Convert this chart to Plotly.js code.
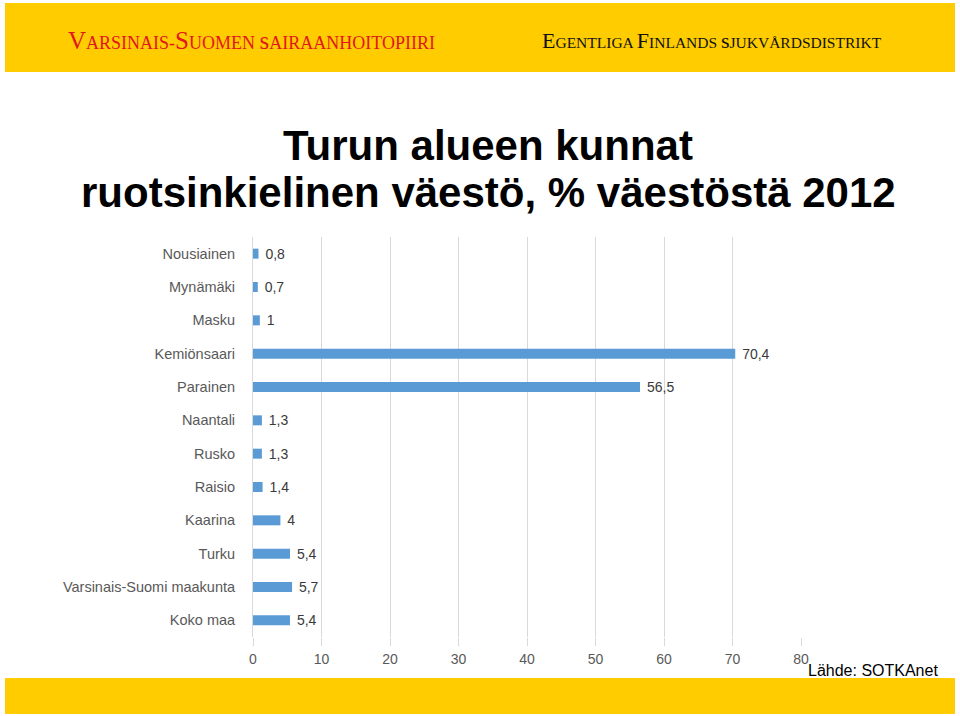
<!DOCTYPE html>
<html><head><meta charset="utf-8">
<script src="https://cdn.plot.ly/plotly-3.0.1.min.js"></script>
<style>html,body{margin:0;padding:0;background:#fff}#chart{width:960px;height:716px}</style>
</head><body><div id="chart"></div>
<script>
const categories = ["Nousiainen","Mynämäki","Masku","Kemiönsaari","Parainen","Naantali","Rusko","Raisio","Kaarina","Turku","Varsinais-Suomi maakunta","Koko maa"];
const values = [0.8,0.7,1,70.4,56.5,1.3,1.3,1.4,4,5.4,5.7,5.4];
const xTicks = [0,10,20,30,40,50,60,70,80];
const titleLines = ["Turun alueen kunnat","ruotsinkielinen väestö, % väestöstä 2012"];
const source = "Lähde: SOTKAnet";

const L=253, R=801, T=237, B=637, W=960, H=716;
const px = x => (x-L)/(R-L);
const py = y => (B-y)/(B-T);

function smallCaps(str, big, small){
  return str.split(" ").map(w=>{
    return w.split("-").map(p=>`<span style="font-size:${big}px">${p[0]}</span><span style="font-size:${small}px">${p.slice(1).toUpperCase()}</span>`).join(`<span style="font-size:${small}px">-</span>`);
  }).join(`<span style="font-size:${small}px"> </span>`);
}

const trace = {
  type:"bar", orientation:"h",
  y:categories, x:values,
  marker:{color:"#5B9BD5"},
  text:values.map(v=>"\u00a0"+String(v).replace(".",",")),
  textposition:"outside", cliponaxis:false, constraintext:"none",
  textfont:{family:"Liberation Sans, Arial, sans-serif", size:14, color:"#3a3a3a"},
  hoverinfo:"none"
};

const layout = {
  width:W, height:H,
  margin:{l:L, r:W-R, t:T, b:H-B, pad:0},
  paper_bgcolor:"#fff", plot_bgcolor:"#fff",
  separators:", ",
  showlegend:false,
  bargap:0.7,
  xaxis:{range:[0,80], tickvals:xTicks, ticktext:xTicks.map(String),
    showgrid:true, gridcolor:"#D9D9D9", gridwidth:1, zeroline:false,
    ticks:"outside", ticklen:8, tickcolor:"#D9D9D9", ticklabelstandoff:1,
    tickfont:{family:"Liberation Sans, Arial, sans-serif", size:14, color:"#595959"},
    showline:false, fixedrange:true},
  yaxis:{autorange:"reversed", type:"category",
    showgrid:false, zeroline:false, showline:true, linecolor:"#D9D9D9", linewidth:1,
    ticks:"", ticklabelstandoff:14,
    tickfont:{family:"Liberation Sans, Arial, sans-serif", size:14.5, color:"#595959"},
    fixedrange:true},
  shapes:[
    {type:"rect", xref:"paper", yref:"paper", x0:px(5), x1:px(955), y0:py(72), y1:py(3), fillcolor:"#FFCC00", line:{width:0}, layer:"below"},
    {type:"rect", xref:"paper", yref:"paper", x0:px(5), x1:px(955), y0:py(714), y1:py(678), fillcolor:"#FFCC00", line:{width:0}, layer:"below"}
  ],
  annotations:[
    {xref:"paper", yref:"paper", x:px(66), y:py(40), xanchor:"left", yanchor:"middle", showarrow:false,
      text:smallCaps("Varsinais-Suomen sairaanhoitopiiri",25,18),
      font:{family:"Liberation Serif, Times New Roman, serif", size:18, color:"#E3161C"}},
    {xref:"paper", yref:"paper", x:px(540), y:py(40), xanchor:"left", yanchor:"middle", showarrow:false,
      text:smallCaps("Egentliga Finlands sjukvårdsdistrikt",22,15.5),
      font:{family:"Liberation Serif, Times New Roman, serif", size:16, color:"#111"}},
    {xref:"paper", yref:"paper", x:px(488), y:py(145), xanchor:"center", yanchor:"middle", showarrow:false,
      text:"<b>"+titleLines[0]+"</b>", font:{family:"Liberation Sans, Arial, sans-serif", size:42, color:"#000"}},
    {xref:"paper", yref:"paper", x:px(488), y:py(193), xanchor:"center", yanchor:"middle", showarrow:false,
      text:"<b>"+titleLines[1]+"</b>", font:{family:"Liberation Sans, Arial, sans-serif", size:42, color:"#000"}},
    {xref:"paper", yref:"paper", x:px(806), y:py(670), xanchor:"left", yanchor:"middle", showarrow:false,
      text:source, font:{family:"Liberation Sans, Arial, sans-serif", size:16, color:"#000"}}
  ]
};
Plotly.newPlot("chart",[trace],layout,{displayModeBar:false,staticPlot:true});
</script></body></html>
